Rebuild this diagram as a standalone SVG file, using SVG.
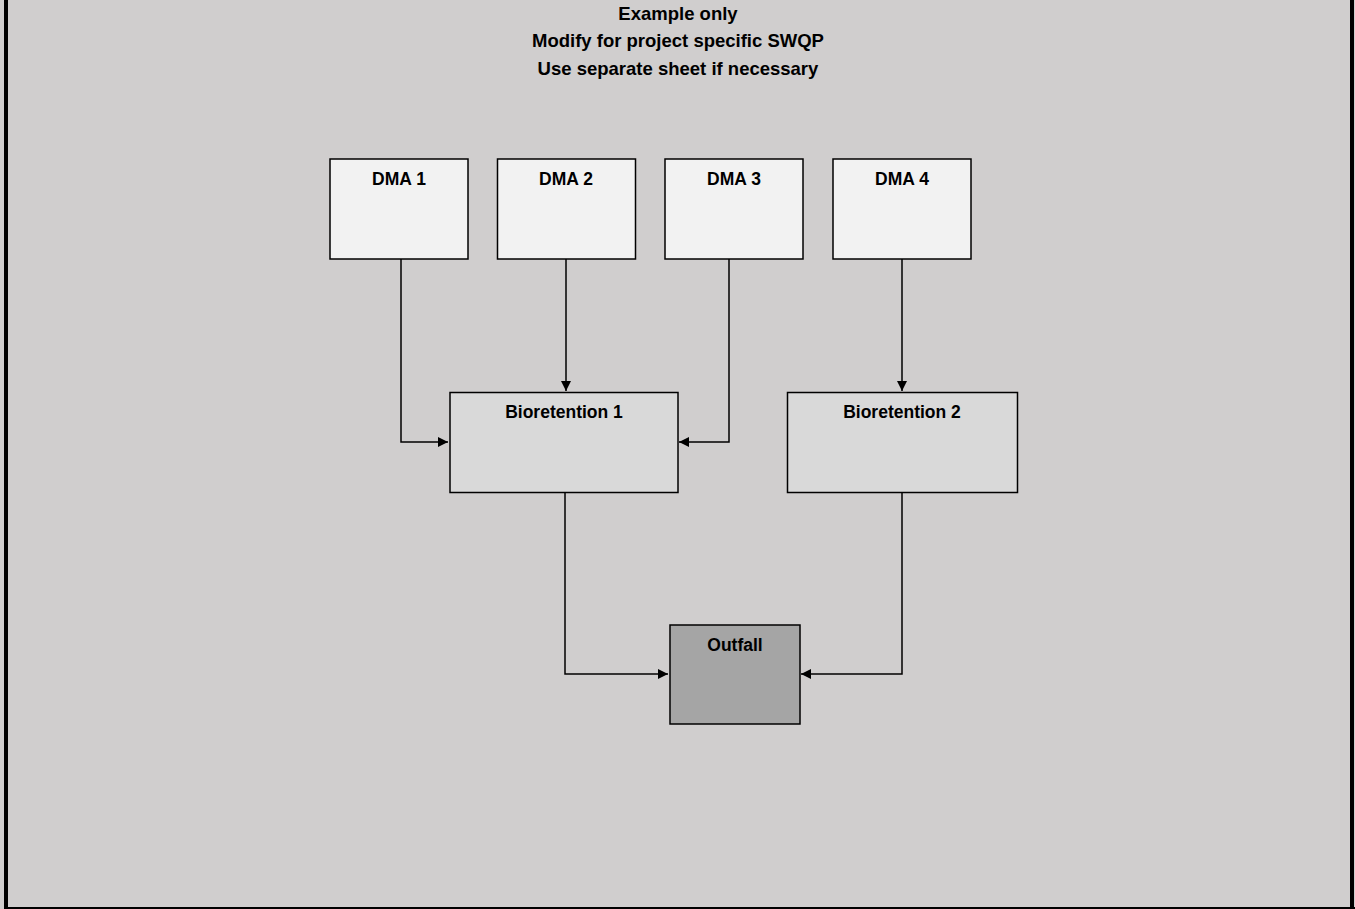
<svg xmlns="http://www.w3.org/2000/svg" width="1355" height="909" viewBox="0 0 1355 909">
<style>
.bg{fill:#D0CECE}
.box{stroke:#000;stroke-width:1.5}
.dma{fill:#F2F2F2}
.bio{fill:#D9D9D9}
.out{fill:#A5A5A5}
.t{font-family:"Liberation Sans",Arial,sans-serif;font-weight:bold;font-size:17.5px;fill:#000;text-anchor:middle}
.tt{font-size:18.5px}
.c{fill:none;stroke:#000;stroke-width:1.5}
</style>
<defs>
<marker id="ah" viewBox="0 0 10 10" refX="10" refY="5" markerWidth="10" markerHeight="10" markerUnits="userSpaceOnUse" orient="auto">
<path d="M0,0 L10,5 L0,10 Z" fill="#000"/>
</marker>
</defs>
<rect class="bg" x="0" y="0" width="1355" height="909"/>
<line x1="6" y1="0" x2="6" y2="909" stroke="#000" stroke-width="4"/>
<line x1="1352" y1="0" x2="1352" y2="909" stroke="#000" stroke-width="4"/>
<line x1="4" y1="908" x2="1355" y2="908" stroke="#000" stroke-width="2"/>
<g id="title">
<text class="t tt" x="678" y="20">Example only</text>
<text class="t tt" x="678" y="47">Modify for project specific SWQP</text>
<text class="t tt" x="678" y="75">Use separate sheet if necessary</text>
</g>
<g id="connectors">
<polyline class="c" points="401,259 401,442 448,442" marker-end="url(#ah)"/>
<polyline class="c" points="566,259 566,391" marker-end="url(#ah)"/>
<polyline class="c" points="729,259 729,442 679,442" marker-end="url(#ah)"/>
<polyline class="c" points="902,259 902,391" marker-end="url(#ah)"/>
<polyline class="c" points="565,493 565,674 668,674" marker-end="url(#ah)"/>
<polyline class="c" points="902,493 902,674 801,674" marker-end="url(#ah)"/>
</g>
<g id="dma1"><rect class="box dma" x="330" y="159" width="138" height="100"/><text class="t" x="399" y="185">DMA 1</text></g>
<g id="dma2"><rect class="box dma" x="497.5" y="159" width="138" height="100"/><text class="t" x="566" y="185">DMA 2</text></g>
<g id="dma3"><rect class="box dma" x="665" y="159" width="138" height="100"/><text class="t" x="734" y="185">DMA 3</text></g>
<g id="dma4"><rect class="box dma" x="833" y="159" width="138" height="100"/><text class="t" x="902" y="185">DMA 4</text></g>
<g id="bio1"><rect class="box bio" x="450" y="392.5" width="228" height="100"/><text class="t" x="564" y="418">Bioretention 1</text></g>
<g id="bio2"><rect class="box bio" x="787.5" y="392.5" width="230" height="100"/><text class="t" x="902" y="418">Bioretention 2</text></g>
<g id="outfall"><rect class="box out" x="670" y="625" width="130" height="99"/><text class="t" x="735" y="651">Outfall</text></g>
</svg>
